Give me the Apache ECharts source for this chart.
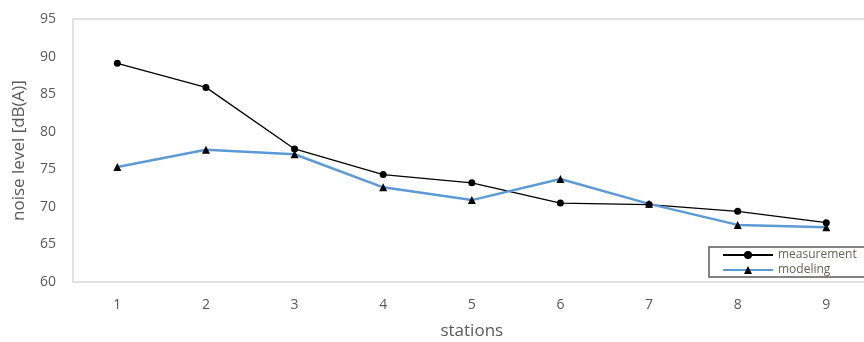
<!DOCTYPE html>
<html>
<head>
<meta charset="utf-8">
<script src="https://cdn.jsdelivr.net/npm/echarts@6/dist/echarts.min.js"></script>
<style>
html,body{margin:0;padding:0;background:#fff;}
#chart{width:864px;height:342px;}
</style>
</head>
<body>
<div id="chart"></div>
<script>
const stations = ['1','2','3','4','5','6','7','8','9'];
const measurement = [89.1, 85.9, 77.7, 74.3, 73.2, 70.5, 70.3, 69.4, 67.9];
const modeling = [75.3, 77.6, 77.0, 72.6, 70.9, 73.7, 70.4, 67.6, 67.3];
const yTicks = { min: 60, max: 95, interval: 5 };

const chart = echarts.init(document.getElementById('chart'), null, { renderer: 'canvas' });
const font = "'Open Sans', 'Noto Sans', sans-serif";
chart.setOption({
  animation: false,
  backgroundColor: '#fff',
  grid: {
    left: 73, top: 19, height: 263, width: 797.6,
    outerBoundsMode: 'none',
    containLabel: false,
    show: true, borderColor: '#d9d9d9', borderWidth: 1.5, backgroundColor: 'transparent'
  },
  legend: {
    orient: 'vertical',
    left: 709, top: 247,
    itemWidth: 50, itemHeight: 10, itemGap: 3,
    padding: [2, 10, 1, 13],
    borderColor: '#595959', borderWidth: 1.5,
    textStyle: { fontSize: 12, color: '#6b6058', fontFamily: font },
    data: ['measurement', 'modeling']
  },
  xAxis: {
    type: 'category',
    data: stations,
    boundaryGap: true,
    axisLine: { show: false },
    axisTick: { show: false },
    axisLabel: { color: '#595959', fontSize: 14, margin: 16, fontFamily: font },
    name: 'stations',
    nameLocation: 'middle',
    nameGap: 41,
    nameTextStyle: { color: '#595959', fontSize: 17, fontFamily: font }
  },
  yAxis: {
    type: 'value',
    min: yTicks.min, max: yTicks.max, interval: yTicks.interval,
    axisLine: { show: false },
    axisTick: { show: false },
    splitLine: { show: false },
    axisLabel: { color: '#595959', fontSize: 14, margin: 17, fontFamily: font },
    name: 'noise level [dB(A)]',
    nameLocation: 'middle',
    nameGap: 45,
    nameTextStyle: { color: '#595959', fontSize: 17, fontFamily: font }
  },
  series: [
    {
      name: 'measurement',
      type: 'line',
      data: measurement,
      symbol: 'circle',
      symbolSize: 7,
      itemStyle: { color: '#000' },
      lineStyle: { color: '#000', width: 1.3 }
    },
    {
      name: 'modeling',
      type: 'line',
      data: modeling,
      symbol: 'triangle',
      symbolSize: 8,
      itemStyle: { color: '#000' },
      lineStyle: { color: '#5b9bd5', width: 2.5 }
    }
  ]
});
</script>
</body>
</html>
